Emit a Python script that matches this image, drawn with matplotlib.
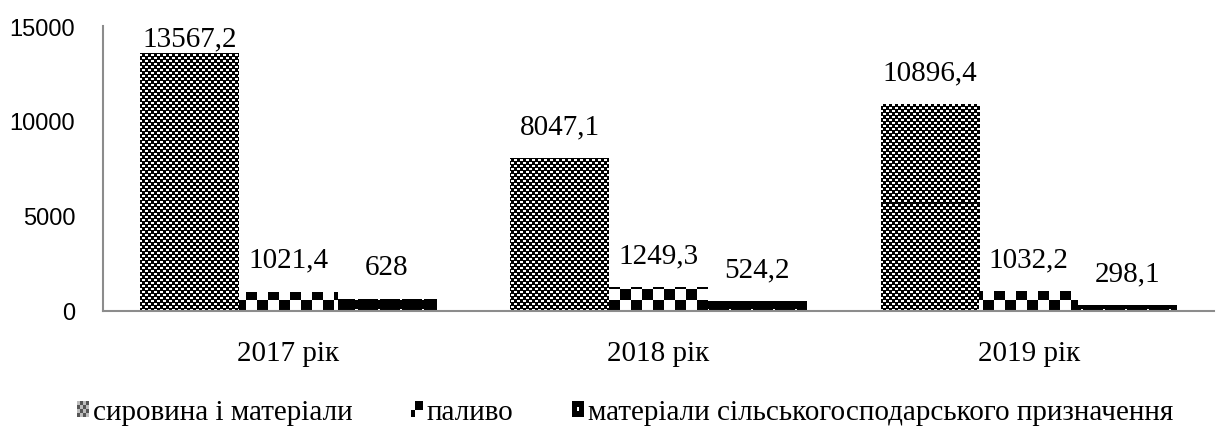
import numpy as np
import matplotlib
matplotlib.use("Agg")
import matplotlib.pyplot as plt
from matplotlib.patches import Patch, Rectangle
from matplotlib.legend_handler import HandlerBase

years = ["2017 рік", "2018 рік", "2019 рік"]
series_names = ["сировина і матеріали", "паливо",
                "матеріали сільськогосподарського призначення"]
raw_materials = [13567.2, 8047.1, 10896.4]
fuel = [1021.4, 1249.3, 1032.2]
agri_materials = [628.0, 524.2, 298.1]
labels_raw = ["13567,2", "8047,1", "10896,4"]
labels_fuel = ["1021,4", "1249,3", "1032,2"]
labels_agri = ["628", "524,2", "298,1"]

SERIF = ["Liberation Serif", "DejaVu Serif"]
SANS = ["Liberation Sans", "DejaVu Sans"]
AXIS_GREY = "#8c8c8c"

W, H, DPI = 1221, 435, 100
fig = plt.figure(figsize=(W / DPI, H / DPI), dpi=DPI)
ax = fig.add_axes([103 / W, 1 - 312 / H, (1214 - 103) / W, (312 - 27) / H])

ymax = 15000
ax.set_xlim(0, 3)
ax.set_ylim(0, ymax)


def pattern(kind, rows, cols):
    i, j = np.mgrid[0:rows, 0:cols]
    if kind == "fine":
        chk = ((i // 3 + j // 3) % 2) == 1
        return (chk & (i % 3 != 2)).astype(float)
    if kind == "coarse":
        return ((i // 11 + j // 11) % 2).astype(float)
    # solid black with small white dots
    img = np.zeros((rows, cols))
    img[((i % 11) < 2) & ((j % 22) >= 10) & ((j % 22) < 12)] = 1.0
    return img


bbox = ax.get_window_extent()
ax_w, ax_h = int(round(bbox.width)), int(round(bbox.height))

x = np.arange(len(years)) + 0.5
bar_w = 0.8 / 3
all_series = [(raw_materials, labels_raw, "fine"),
              (fuel, labels_fuel, "coarse"),
              (agri_materials, labels_agri, "dots")]

fig.canvas.draw()
for k, (vals, labs, kind) in enumerate(all_series):
    pos = x - 0.4 + bar_w * (k + 0.5)
    bars = ax.bar(pos, vals, bar_w, color="white", edgecolor="none", zorder=1)
    tex = pattern(kind, ax_h, ax_w)
    for b in bars:
        im = ax.imshow(tex, extent=(0, 3, 0, ymax), origin="lower",
                       cmap="gray", vmin=0, vmax=1, aspect="auto",
                       interpolation="nearest", zorder=2)
        im.set_clip_path(b)
    # value labels, kept inside the plot area for the tallest bar
    top_px = ax.transData.transform((0, ymax))[1]
    for p, v, lab in zip(pos, vals, labs):
        ypx = ax.transData.transform((0, v))[1] + 25
        ypx = min(ypx, top_px - 19)
        y = ax.transData.inverted().transform((0, ypx))[1]
        ax.text(p, y, lab, ha="center", va="baseline", fontsize=21,
                family=SERIF, color="black")

ax.set_xlim(0, 3)
ax.set_ylim(0, ymax)
ax.set_xticks(x)
ax.set_xticklabels(years, family=SERIF, fontsize=21)
ax.set_yticks([0, 5000, 10000, 15000])
ax.set_yticklabels(["0", "5000", "10000", "15000"], family=SANS, fontsize=17)
ax.tick_params(axis="x", length=0, pad=21)
ax.tick_params(axis="y", length=0, pad=20)
for side in ["top", "right"]:
    ax.spines[side].set_visible(False)
for side in ["left", "bottom"]:
    ax.spines[side].set_color(AXIS_GREY)
    ax.spines[side].set_linewidth(1.5)
    ax.spines[side].set_zorder(3)


class SwatchHandler(HandlerBase):
    def __init__(self, kind):
        super().__init__()
        self.kind = kind

    def create_artists(self, legend, orig_handle, xdescent, ydescent,
                       width, height, fontsize, trans):
        x0, y0 = -xdescent, -ydescent
        arts = []
        if self.kind == "fine":
            n = 4
            cw, ch = width / n, height / n
            arts.append(Rectangle((x0, y0), width, height, fc="#bdbdbd", ec="none"))
            for r in range(n):
                for c in range(n):
                    if (r + c) % 2 == 0:
                        arts.append(Rectangle((x0 + c * cw, y0 + r * ch), cw, ch,
                                              fc="#555555", ec="none"))
        elif self.kind == "coarse":
            arts.append(Rectangle((x0 + width * 0.35, y0 + height * 0.4),
                                  width * 0.65, height * 0.6, fc="black", ec="none"))
            arts.append(Rectangle((x0, y0), width * 0.35, height * 0.4,
                                  fc="black", ec="none"))
        else:
            arts.append(Rectangle((x0, y0), width, height, fc="black", ec="none"))
            arts.append(Rectangle((x0 + width * 0.38, y0 + height * 0.38),
                                  width * 0.24, height * 0.24, fc="white", ec="none"))
        for a in arts:
            a.set_transform(trans)
        return arts


handles = [Patch(label=n) for n in series_names]
hmap = {h: SwatchHandler(kd) for h, kd in zip(handles, ["fine", "coarse", "dots"])}
fig.legend(handles=handles, handler_map=hmap, loc="center",
           bbox_to_anchor=(0.512, 0.05), ncol=3, frameon=False,
           prop={"family": SERIF, "size": 21}, handlelength=0.4,
           handleheight=0.45, handletextpad=0.15, columnspacing=2.0,
           borderaxespad=0, borderpad=0)

fig.savefig("out.png", dpi=DPI)
